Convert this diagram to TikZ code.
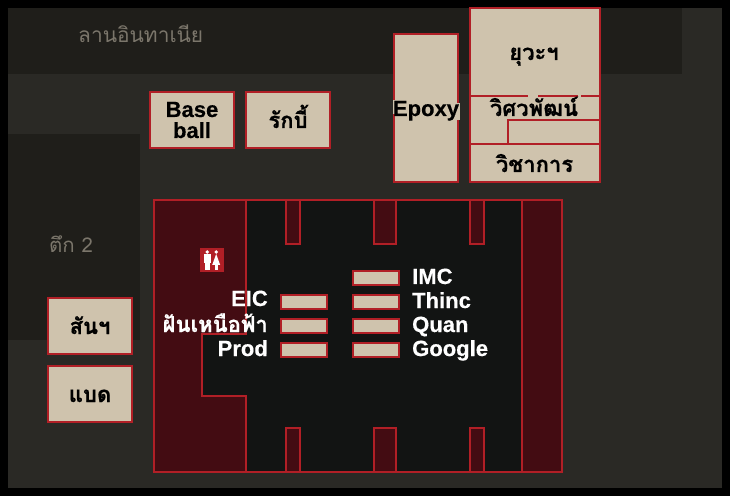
\documentclass[tikz,border=0pt]{standalone}
\usepackage{fontspec}
\setmainfont[BoldFeatures={FakeBold=0.35}]{Liberation Sans}
\newfontfamily\thaifont[Script=Thai,BoldFeatures={FakeBold=0.6}]{Loma}
\definecolor{bgc}{HTML}{2A2925}
\definecolor{darkc}{HTML}{1F1E1A}
\definecolor{beige}{HTML}{CFC3AD}
\definecolor{redc}{HTML}{B11F26}
\definecolor{roomc}{HTML}{430C12}
\definecolor{mainc}{HTML}{121413}
\definecolor{dimtext}{HTML}{7B766B}
\tikzset{
  x=1bp,y=-1bp,
  wall/.style={draw=redc,line width=2bp,line join=miter},
  beigebox/.style={wall,fill=beige},
  roomfill/.style={wall,fill=roomc},
  lbl/.style={inner sep=0pt,anchor=base,font=\fontsize{22.1}{22.1}\selectfont\bfseries},
  thaibox/.style={inner sep=0pt,anchor=base,font=\fontsize{22.1}{22.1}\selectfont\thaifont\bfseries},
  darklbl/.style={inner sep=0pt,anchor=base west,text=dimtext,font=\fontsize{21}{21}\selectfont\thaifont},
  whitelbl/.style={lbl,text=white},
}
\begin{document}
\begin{tikzpicture}
\useasboundingbox (0,0) rectangle (730,496);
\fill[black] (0,0) rectangle (730,496);
\begin{scope}
\clip (8,8) rectangle (722,488);
\fill[bgc] (8,8) rectangle (722,488);
\fill[darkc] (8,8) rectangle (682,74);
\fill[darkc] (8,134) rectangle (140,340);
% outside boxes
\path[beigebox] (150,92) rectangle (234,148);
\path[beigebox] (246,92) rectangle (330,148);
\path[beigebox] (394,34) rectangle (458,182);
\path[beigebox] (470,8) rectangle (600,182);
\path[wall] (470,96) -- (600,96);
\path[wall] (470,144) -- (600,144);
\path[wall] (600,120) -- (508,120) -- (508,144);
\path[beigebox] (48,298) rectangle (132,354);
\path[beigebox] (48,366) rectangle (132,422);
% halo patches where the text crosses the lines
\fill[beige] (392.8,100) rectangle (395.2,114);
\fill[beige] (456.8,103) rectangle (460,120);
\fill[beige] (528,94.9) rectangle (538,97.1);
\fill[beige] (578,94.9) rectangle (581,97.1);
% main hall
\path[wall,fill=mainc] (154,200) rectangle (562,472);
\path[roomfill] (154,200) -- (246,200) -- (246,334) -- (202,334) -- (202,396) -- (246,396) -- (246,472) -- (154,472) -- cycle;
\path[roomfill] (522,200) rectangle (562,472);
\path[roomfill] (286,200) rectangle (300,244);
\path[roomfill] (374,200) rectangle (396,244);
\path[roomfill] (470,200) rectangle (484,244);
\path[roomfill] (286,428) rectangle (300,472);
\path[roomfill] (374,428) rectangle (396,472);
\path[roomfill] (470,428) rectangle (484,472);
% desks
\path[beigebox] (281,295) rectangle (327,309);
\path[beigebox] (281,319) rectangle (327,333);
\path[beigebox] (281,343) rectangle (327,357);
\path[beigebox] (353,271) rectangle (399,285);
\path[beigebox] (353,295) rectangle (399,309);
\path[beigebox] (353,319) rectangle (399,333);
\path[beigebox] (353,343) rectangle (399,357);
% restroom sign
\fill[redc] (200,248) rectangle (224,272);
\fill[white] (207.2,252) circle (1.9);
\fill[white] (216.2,252) circle (1.9);
\fill[white] (203.8,254.5) rectangle (210.6,263);
\fill[white] (204.8,262.5) rectangle (209.6,270);
\fill[white] (216.2,254) -- (220.2,265) -- (212.2,265) -- cycle;
\fill[white] (214.8,264.5) rectangle (217.6,270);
\end{scope}
% labels
\node[darklbl] (lan) at (78,43) {ลานอินทาเนีย};
\node[darklbl,font=\fontsize{20.5}{20.5}\selectfont\thaifont] (tuek) at (49,253) {ตึก 2};
\node[lbl] (base) at (192,117) {Base};
\node[lbl] (ball) at (192,138) {ball};
\node[thaibox] (rugby) at (288,128) {รักบี้};
\node[lbl] (epoxy) at (426,116) {Epoxy};
\node[thaibox] (yuwa) at (534,60) {ยุวะฯ};
\node[thaibox] (wisawa) at (534,116) {วิศวพัฒน์};
\node[thaibox] (wicha) at (534.5,172) {วิชาการ};
\node[thaibox] (san) at (90,334) {สันฯ};
\node[thaibox] (bad) at (90,402) {แบด};
\node[whitelbl,anchor=base east] (eic) at (268,306) {EIC};
\node[thaibox,anchor=base east,text=white] (fan) at (268,332) {ฝันเหนือฟ้า};
\node[whitelbl,anchor=base east] (prod) at (268,356) {Prod};
\node[whitelbl,anchor=base west] (imc) at (412,284) {IMC};
\node[whitelbl,anchor=base west] (thinc) at (412,308) {Thinc};
\node[whitelbl,anchor=base west] (quan) at (412,332) {Quan};
\node[whitelbl,anchor=base west] (google) at (412,356) {Google};
\end{tikzpicture}
\end{document}
